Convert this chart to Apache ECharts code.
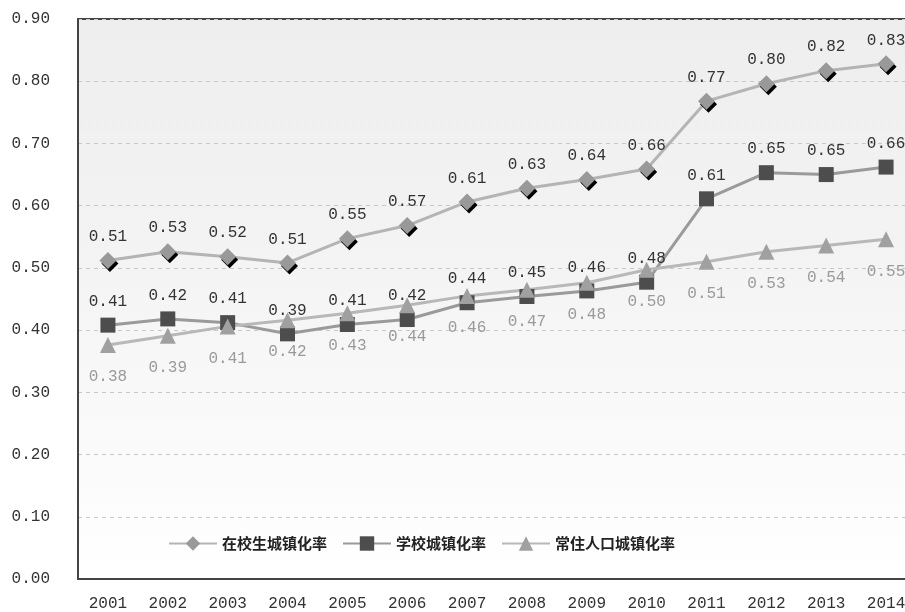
<!DOCTYPE html>
<html><head><meta charset="utf-8">
<script src="https://cdn.jsdelivr.net/npm/echarts@6/dist/echarts.min.js"></script>
<style>html,body{margin:0;padding:0;background:#fff}#c{width:905px;height:612px}</style>
</head><body><div id="c"></div>
<script>
var years = ['2001','2002','2003','2004','2005','2006','2007','2008','2009','2010','2011','2012','2013','2014'];
var studentRate = [0.512,0.526,0.518,0.508,0.547,0.568,0.606,0.628,0.642,0.659,0.768,0.796,0.817,0.828];
var schoolRate  = [0.408,0.418,0.412,0.394,0.409,0.417,0.444,0.454,0.463,0.477,0.611,0.653,0.650,0.662];
var residentRate= [0.376,0.391,0.406,0.416,0.427,0.440,0.455,0.465,0.476,0.497,0.510,0.526,0.536,0.546];
var names = ['在校生城镇化率','学校城镇化率','常住人口城镇化率'];
var yTicks = {min:0, max:0.9, interval:0.1};

var mono = 'Liberation Mono';
var chart = echarts.init(document.getElementById('c'));
function fmt(p){ return p.value.toFixed(2); }
chart.setOption({
  animation:false,
  backgroundColor:'#fff',
  grid:{left:78, top:19, width:838, bottom:33, outerBoundsMode:'none', containLabel:false, show:true, borderColor:'#444', borderWidth:2,
    backgroundColor:new echarts.graphic.LinearGradient(0,0,0,1,[{offset:0,color:'#eeeeee'},{offset:0.4,color:'#f3f3f3'},{offset:1,color:'#ffffff'}])},
  legend:{left:163, top:531, itemGap:15, itemWidth:48, itemHeight:18,
    textStyle:{fontFamily:'Noto Sans CJK SC', fontSize:15, fontWeight:'bold', color:'#222'},
    data:names},
  xAxis:{type:'category', data:years, boundaryGap:true,
    axisLine:{show:true, lineStyle:{color:'#444', width:2}}, axisTick:{show:false},
    axisLabel:{fontFamily:mono, fontSize:16, color:'#333', margin:17}},
  yAxis:{type:'value', min:yTicks.min, max:yTicks.max, interval:yTicks.interval,
    axisLine:{show:true, lineStyle:{color:'#444', width:2}}, axisTick:{show:false},
    axisLabel:{fontFamily:mono, fontSize:16, color:'#333', margin:28, formatter:function(v){return v.toFixed(2);}},
    splitLine:{show:true, lineStyle:{color:'#c8c8c8', type:[4,4], width:1}}},
  series:[
    {name:names[0], type:'line', data:studentRate, symbol:'diamond', symbolSize:17,
     lineStyle:{color:'#b4b4b4', width:3},
     itemStyle:{color:'#999999', shadowColor:'#000', shadowOffsetX:2, shadowOffsetY:3, shadowBlur:0},
     label:{show:true, position:'top', distance:7, formatter:fmt, fontFamily:mono, fontSize:16, color:'#333'}},
    {name:names[1], type:'line', data:schoolRate, symbol:'rect', symbolSize:15,
     lineStyle:{color:'#9a9a9a', width:3},
     itemStyle:{color:'#4d4d4d'},
     label:{show:true, position:'top', distance:8, formatter:fmt, fontFamily:mono, fontSize:16, color:'#333'}},
    {name:names[2], type:'line', data:residentRate, symbol:'triangle', symbolSize:16,
     lineStyle:{color:'#b8b8b8', width:3},
     itemStyle:{color:'#a0a0a0'},
     label:{show:true, position:'bottom', distance:16, formatter:fmt, fontFamily:mono, fontSize:16, color:'#9a9a9a'}}
  ]
});
</script></body></html>
